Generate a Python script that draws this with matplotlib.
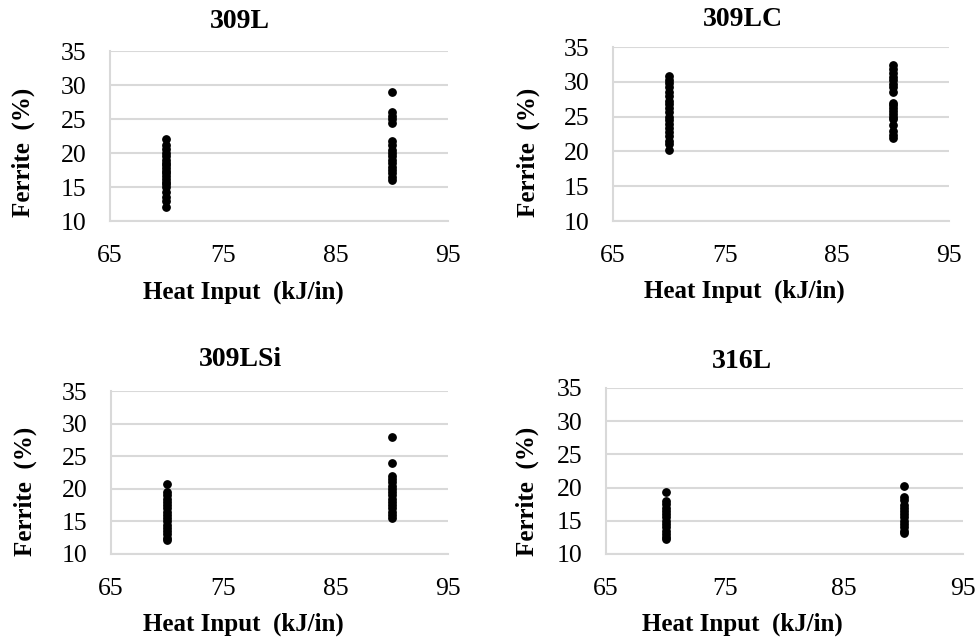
import matplotlib
matplotlib.use("Agg")
import matplotlib.pyplot as plt

plt.rcParams["font.family"] = ["Liberation Serif", "DejaVu Serif"]

# dados (Ferrite % por heat input)
heat_input = [70, 90]
ligas = ["309L", "309LC", "309LSi", "316L"]

ferrite_309L_70 = [22.0, 21.2, 20.6, 20.0, 19.5, 19.0, 18.6, 18.2, 17.8, 17.4,
                   17.0, 16.6, 16.2, 15.8, 15.4, 15.0, 14.2, 13.6, 13.0, 12.0]
ferrite_309L_90 = [28.9, 26.0, 25.5, 25.0, 24.4, 21.8, 21.2, 20.5, 20.0, 19.5,
                   19.0, 18.5, 18.0, 17.5, 17.0, 16.5, 16.0]
ferrite_309LC_70 = [30.8, 30.3, 29.8, 29.2, 28.6, 28.0, 27.3, 26.8, 26.2, 25.6,
                    25.0, 24.5, 24.0, 23.4, 22.8, 22.2, 21.5, 21.0, 20.2]
ferrite_309LC_90 = [32.4, 31.8, 31.2, 30.7, 30.2, 29.7, 29.2, 28.6, 27.0, 26.6,
                    26.2, 25.8, 25.4, 25.0, 24.6, 23.8, 23.0, 22.4, 21.9]
ferrite_309LSi_70 = [20.8, 19.5, 19.0, 18.5, 18.0, 17.5, 17.0, 16.5, 16.0, 15.5,
                     15.0, 14.5, 14.0, 13.5, 13.0, 12.5, 12.2]
ferrite_309LSi_90 = [28.0, 24.0, 22.0, 21.5, 21.0, 20.5, 20.0, 19.5, 19.0, 18.5,
                     18.0, 17.5, 17.0, 16.5, 16.0, 15.5]
ferrite_316L_70 = [19.4, 18.0, 17.5, 17.0, 16.5, 16.0, 15.5, 15.0, 14.5, 14.0,
                   13.5, 13.0, 12.5, 12.2]
ferrite_316L_90 = [20.2, 18.6, 18.2, 17.4, 17.0, 16.5, 16.0, 15.5, 15.0, 14.5,
                   14.0, 13.5, 13.2]

series = [
    (ferrite_309L_70, ferrite_309L_90),
    (ferrite_309LC_70, ferrite_309LC_90),
    (ferrite_309LSi_70, ferrite_309LSi_90),
    (ferrite_316L_70, ferrite_316L_90),
]

x_ticks = [65, 75, 85, 95]
y_ticks = [10, 15, 20, 25, 30, 35]

W, H = 979, 641
fig = plt.figure(figsize=(W / 100, H / 100), dpi=100)

# caixas em pixels: (esquerda, topo, direita, base)
caixas = [(110, 51, 448, 221), (613, 47, 949, 221),
          (111, 391, 448, 554), (606, 388, 963, 554)]
# posições dos textos (px): título, xlabel, ylabel
titulos_pos = [(240, 22), (743, 20), (240, 360), (742, 361)]
xlabel_pos = [(243, 292), (744, 291), (243, 624), (742, 624)]
ylabel_pos = [(23, 152), (528, 152), (25, 491), (527, 491)]

grid_cor = "#d9d9d9"

for i, (nome, (v70, v90)) in enumerate(zip(ligas, series)):
    l, t, r, b = caixas[i]
    ax = fig.add_axes([l / W, 1 - b / H, (r - l) / W, (b - t) / H])

    ax.scatter([heat_input[0]] * len(v70), v70, s=28, color="black", zorder=3)
    ax.scatter([heat_input[1]] * len(v90), v90, s=28, color="black", zorder=3)

    ax.set_xlim(65, 95)
    ax.set_ylim(10, 35)
    ax.set_xticks(x_ticks)
    ax.set_yticks(y_ticks)
    ax.tick_params(length=0, labelsize=18.5, colors="black")
    ax.tick_params(axis="x", pad=17)
    ax.tick_params(axis="y", pad=17)
    ax.grid(axis="y", color=grid_cor, linewidth=1.5)
    ax.set_axisbelow(True)
    for s in ["top", "right"]:
        ax.spines[s].set_visible(False)
    for s in ["left", "bottom"]:
        ax.spines[s].set_color(grid_cor)
        ax.spines[s].set_linewidth(1.5)

    tx, ty = titulos_pos[i]
    fig.text(tx / W, 1 - ty / H, nome, ha="center", va="center",
             fontsize=20, fontweight="bold")
    xx, xy = xlabel_pos[i]
    fig.text(xx / W, 1 - xy / H, "Heat Input  (kJ/in)", ha="center", va="center",
             fontsize=18, fontweight="bold")
    yx, yy = ylabel_pos[i]
    fig.text(yx / W, 1 - yy / H, "Ferrite  (%)", ha="center", va="center",
             rotation=90, fontsize=18, fontweight="bold")

plt.savefig("out.png", dpi=100)
plt.close()
